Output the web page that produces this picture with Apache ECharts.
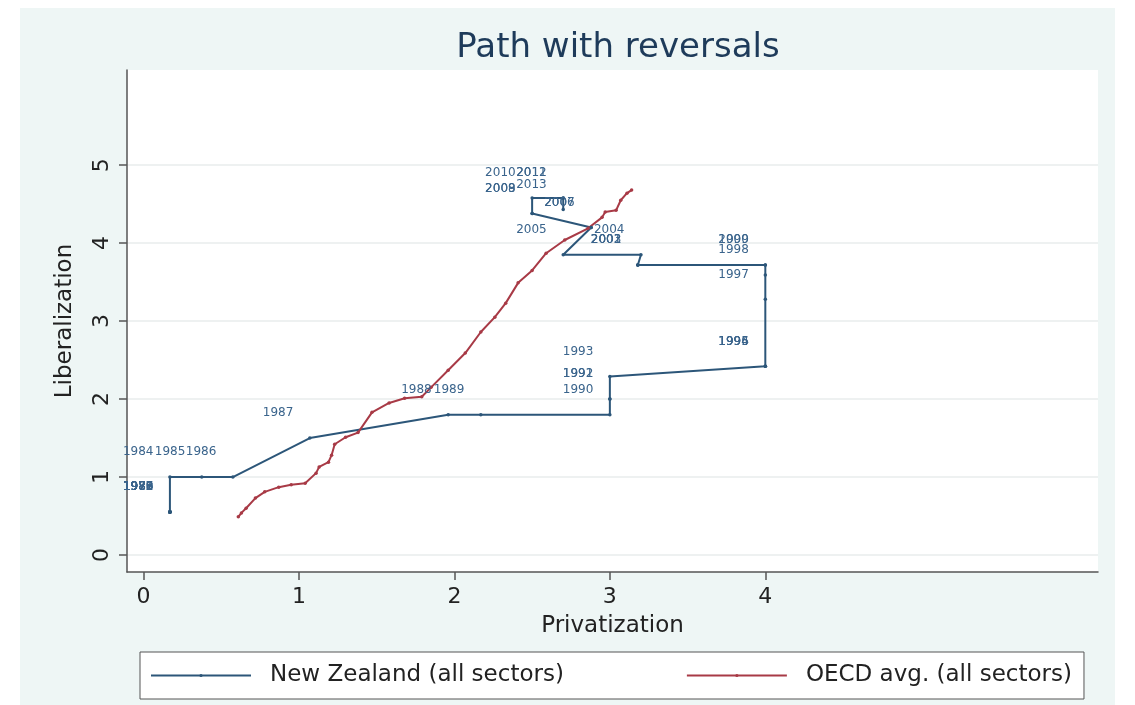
<!DOCTYPE html>
<html>
<head>
<meta charset="utf-8">
<script src="https://cdn.jsdelivr.net/npm/echarts@6/dist/echarts.min.js"></script>
<style>
  html, body { margin: 0; padding: 0; background: #fff; }
  .back { position: absolute; left: 20px; top: 8px; width: 1095px; height: 697px; background: #eef6f5; }
  #chart { position: absolute; left: 0; top: 0; width: 1135px; height: 705px; }
</style>
</head>
<body>
<div class="back"></div>
<div id="chart"></div>
<script>
// New Zealand path, one point per year
const nzYears = [1975, 1976, 1977, 1978, 1979, 1980, 1981, 1982, 1983, 1984, 1985, 1986, 1987, 1988, 1989,
  1990, 1991, 1992, 1993, 1994, 1995, 1996, 1997, 1998, 1999, 2000, 2001, 2002, 2003, 2004, 2005, 2006,
  2007, 2008, 2009, 2010, 2011, 2012, 2013]
const nzPriv = [0.17, 0.17, 0.17, 0.17, 0.17, 0.17, 0.17, 0.17, 0.17, 0.17, 0.375, 0.575, 1.07, 1.96, 2.17,
  3.0, 3.0, 3.0, 3.0, 4.0, 4.0, 4.0, 4.0, 4.0, 4.0, 4.0, 3.18, 3.18, 3.18, 3.2, 2.7, 2.88,
  2.88, 2.5, 2.5, 2.5, 2.7, 2.7, 2.7]
const nzLib = [0.55, 0.55, 0.55, 0.55, 0.55, 0.55, 0.55, 0.55, 0.55, 1.0, 1.0, 1.0, 1.5, 1.8, 1.8,
  1.8, 2.0, 2.0, 2.29, 2.42, 2.42, 2.42, 3.28, 3.59, 3.72, 3.72, 3.72, 3.72, 3.72, 3.85, 3.85, 4.2,
  4.2, 4.38, 4.38, 4.58, 4.58, 4.58, 4.43]

// OECD average path
const oecdPriv = [0.61, 0.63, 0.66, 0.72, 0.78, 0.87, 0.95, 1.04, 1.11, 1.13, 1.19, 1.21, 1.23, 1.30, 1.38,
  1.47, 1.58, 1.68, 1.79, 1.85, 1.96, 2.07, 2.17, 2.26, 2.33, 2.41, 2.50, 2.59, 2.71, 2.86, 2.95,
  2.97, 3.04, 3.07, 3.11, 3.14]
const oecdLib = [0.49, 0.54, 0.60, 0.73, 0.81, 0.87, 0.90, 0.92, 1.05, 1.13, 1.19, 1.28, 1.42, 1.51, 1.57,
  1.83, 1.95, 2.01, 2.03, 2.15, 2.37, 2.59, 2.86, 3.05, 3.23, 3.49, 3.65, 3.87, 4.04, 4.19, 4.33,
  4.40, 4.42, 4.55, 4.64, 4.68]

const xTicks = [0, 1, 2, 3, 4]
const yTicks = [0, 1, 2, 3, 4, 5]

const navy = '#2c5679'
const maroon = '#a83a46'
const font = 'DejaVu Sans'

const nzData = nzPriv.map((x, i) => [x, nzLib[i], nzYears[i]])
const oecdData = oecdPriv.map((x, i) => [x, oecdLib[i]])

const myChart = echarts.init(document.getElementById('chart'))
myChart.setOption({
  animation: false,
  textStyle: {fontFamily: font},
  title: {
    text: 'Path with reversals',
    left: 613,
    textAlign: 'center',
    top: 26,
    textStyle: {color: '#1e3b5a', fontSize: 34, fontWeight: 'normal', fontFamily: font}
  },
  grid: {
    left: 127,
    right: 37,
    top: 70,
    bottom: 133,
    show: true,
    backgroundColor: '#fff',
    borderWidth: 0
  },
  xAxis: {
    type: 'value',
    min: -0.106,
    max: 6.14,
    name: 'Privatization',
    nameLocation: 'middle',
    nameGap: 43,
    nameTextStyle: {color: '#222', fontSize: 23, fontFamily: font},
    axisLine: {onZero: false, lineStyle: {color: '#555', width: 1.5}},
    axisTick: {show: true, length: 8, customValues: xTicks, lineStyle: {color: '#555', width: 1.5}},
    axisLabel: {customValues: xTicks, color: '#222', fontSize: 22, margin: 14, fontFamily: font},
    splitLine: {show: false}
  },
  yAxis: {
    type: 'value',
    min: -0.218,
    max: 6.22,
    name: 'Liberalization',
    nameLocation: 'middle',
    nameRotate: 90,
    nameGap: 50,
    nameTextStyle: {color: '#222', fontSize: 23, fontFamily: font},
    axisLine: {show: true, onZero: false, lineStyle: {color: '#555', width: 1.5}},
    axisTick: {show: true, length: 8, customValues: yTicks, lineStyle: {color: '#555', width: 1.5}},
    axisLabel: {customValues: yTicks, rotate: 90, color: '#222', fontSize: 22, margin: 14, fontFamily: font},
    splitLine: {show: true, lineStyle: {color: '#e8eced', width: 1.5}}
  },
  legend: {
    left: 140,
    top: 652,
    itemWidth: 100,
    itemHeight: 4,
    itemGap: 122,
    padding: [12, 12, 12, 10],
    borderColor: '#555',
    borderWidth: 1,
    backgroundColor: '#fff',
    textStyle: {color: '#222', fontSize: 23, fontFamily: font, padding: [0, 0, 0, 14]},
    data: ['New Zealand (all sectors)', 'OECD avg. (all sectors)']
  },
  series: [
    {
      name: 'New Zealand (all sectors)',
      type: 'line',
      data: nzData,
      symbol: 'circle',
      symbolSize: 3.5,
      lineStyle: {color: navy, width: 2},
      itemStyle: {color: navy},
      label: {
        show: true,
        formatter: p => p.value[2],
        position: [-30, -23],
        align: 'center',
        verticalAlign: 'middle',
        color: '#3a648c',
        fontSize: 12,
        fontFamily: font
      },
      labelLayout: {hideOverlap: false}
    },
    {
      name: 'OECD avg. (all sectors)',
      type: 'line',
      data: oecdData,
      symbol: 'circle',
      symbolSize: 3.5,
      lineStyle: {color: maroon, width: 2},
      itemStyle: {color: maroon}
    }
  ]
})
</script>
</body>
</html>
